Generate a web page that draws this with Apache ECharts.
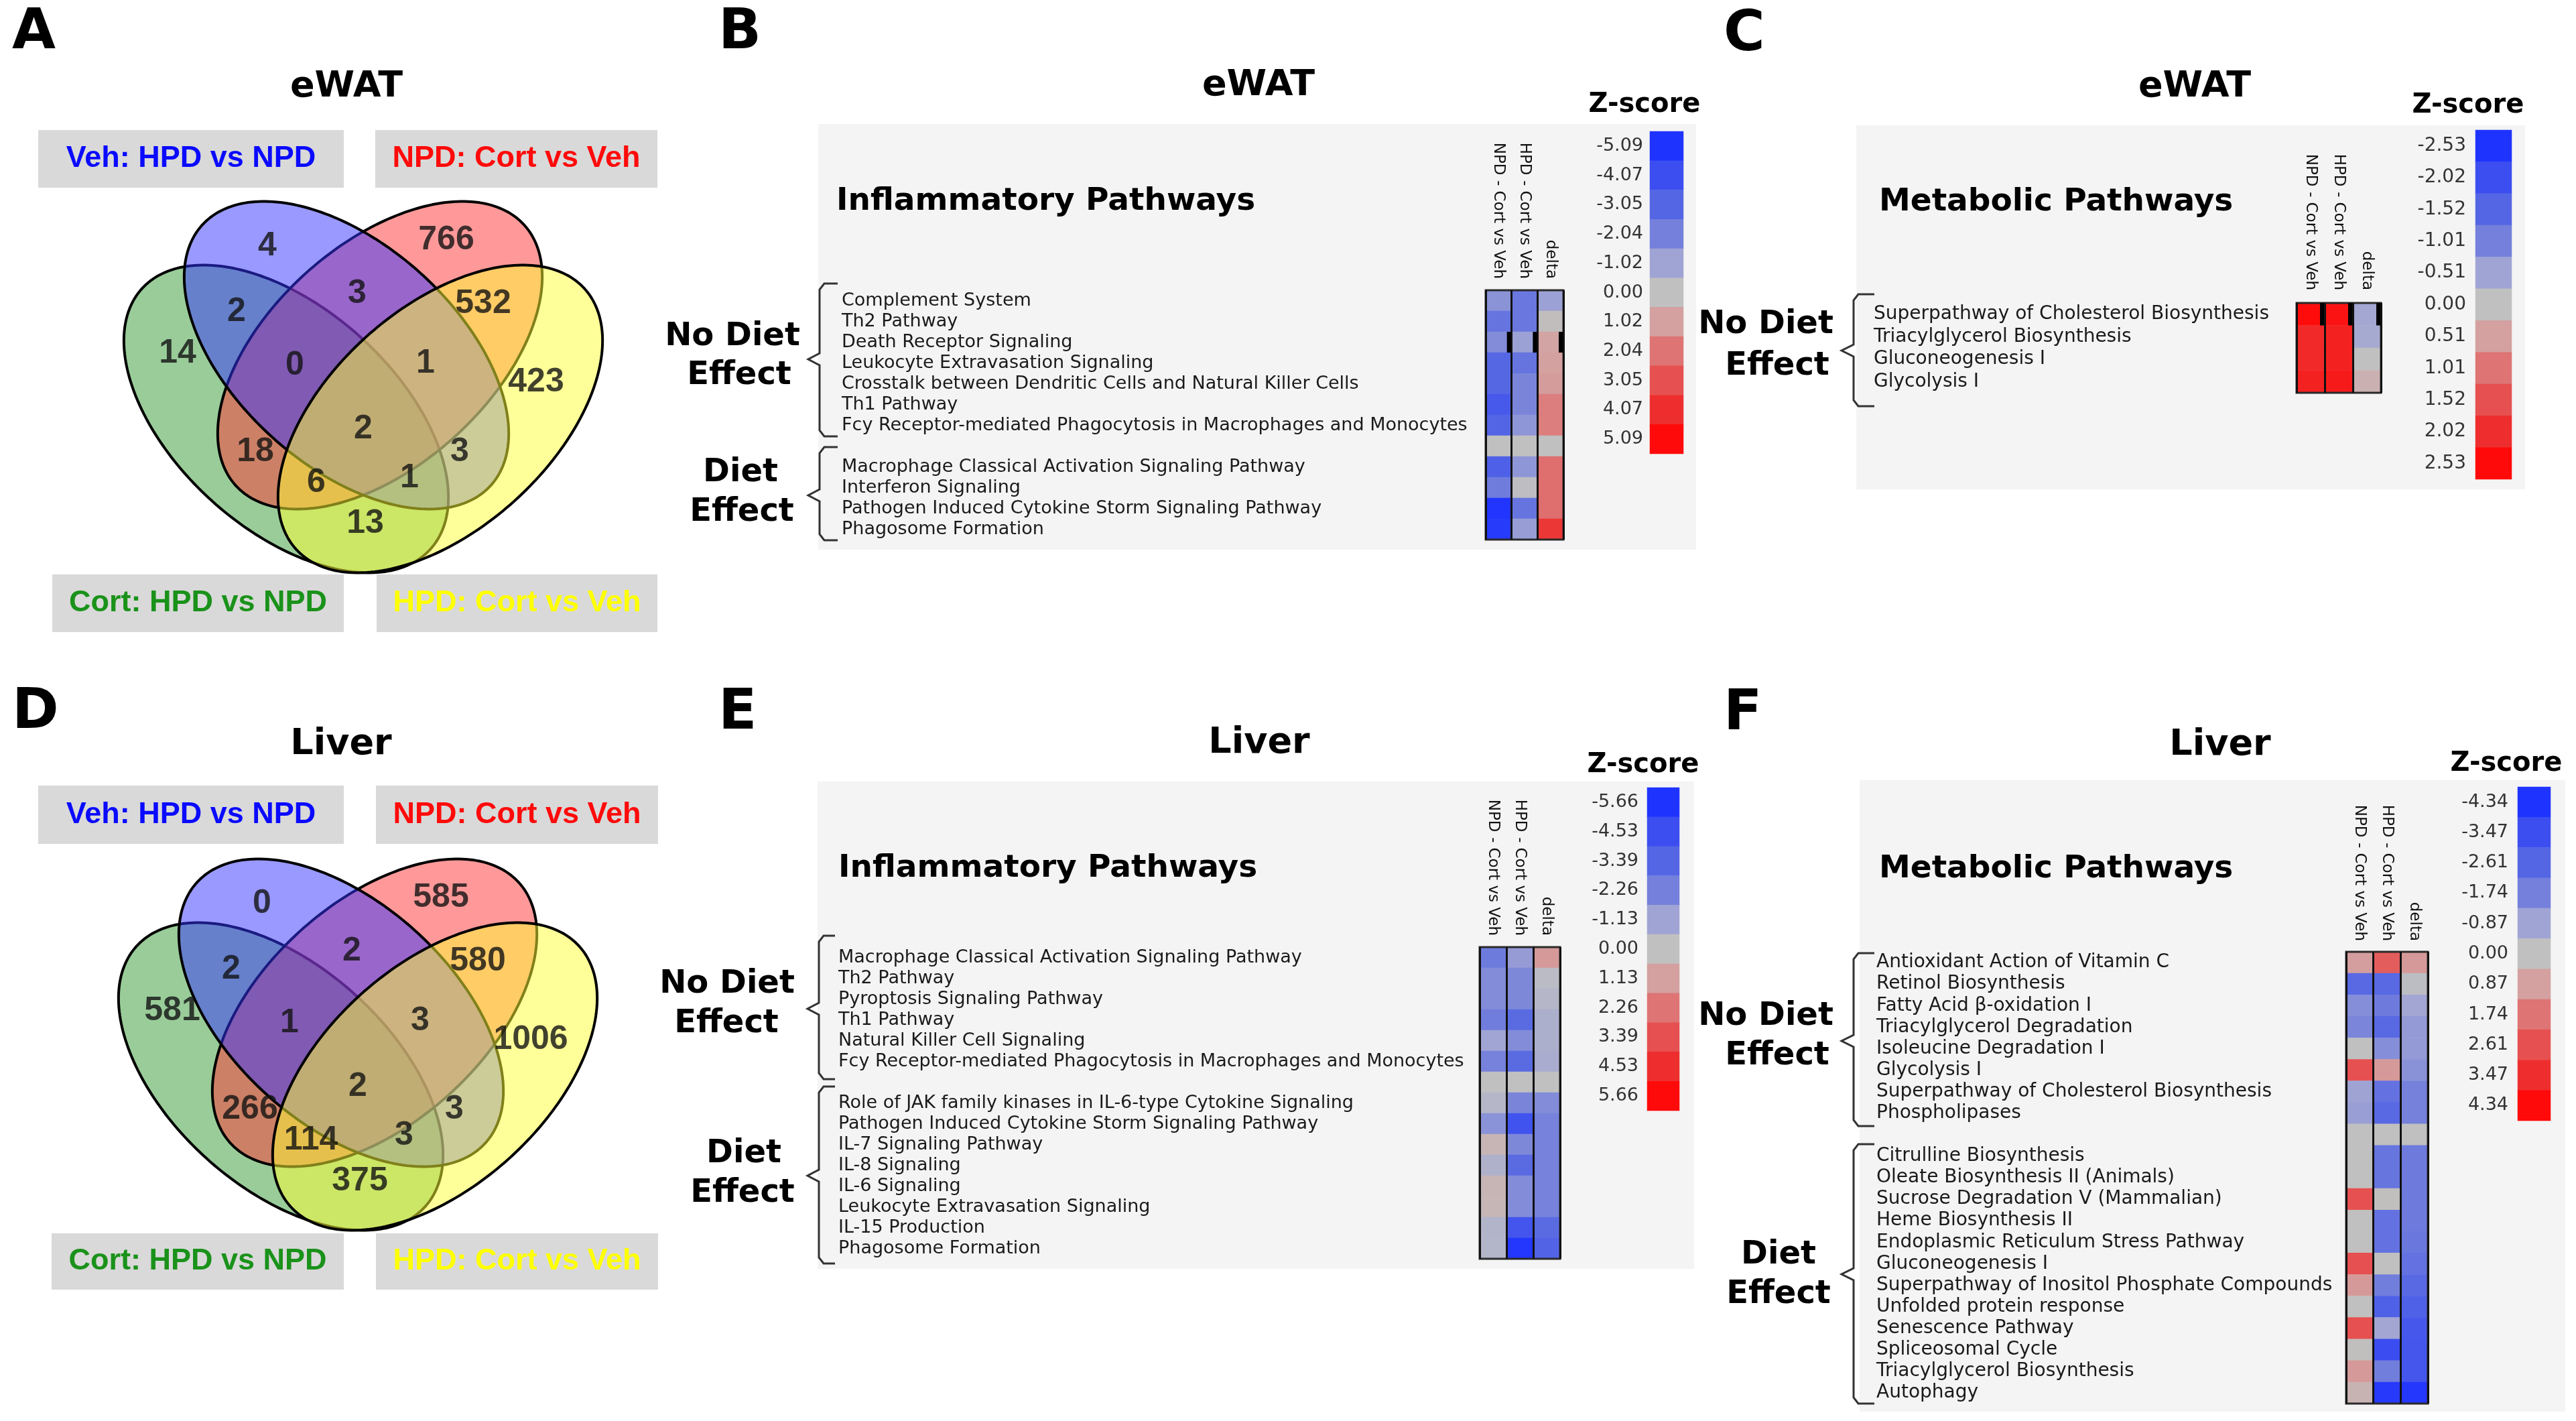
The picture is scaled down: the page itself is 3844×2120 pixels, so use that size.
<!DOCTYPE html>
<html><head><meta charset="utf-8">
<script src="https://cdn.jsdelivr.net/npm/echarts@6/dist/echarts.min.js"></script>
<style>html,body{margin:0;padding:0;background:#fff;}#chart{width:3844px;height:2120px;}</style>
</head><body><div id="chart"></div>
<script>
// ================= DATA =================
const vennSets = ['Veh: HPD vs NPD', 'NPD: Cort vs Veh', 'Cort: HPD vs NPD', 'HPD: Cort vs Veh'];
// regions: B=Veh(blue) R=NPD(red) G=Cort(green) Y=HPD(yellow)
const vennRegions = ['B','R','G','Y','BR','BG','RY','GY','BRG','BRY','RG','BY','RGY','BGY','BRGY'];
const eWATCounts  = [4, 766, 14, 423, 3, 2, 532, 13, 0, 1, 18, 3, 6, 1, 2];
const liverCounts = [0, 585, 581, 1006, 2, 2, 580, 375, 1, 3, 266, 3, 114, 3, 2];

const heatCols = ['NPD - Cort vs Veh', 'HPD - Cort vs Veh', 'delta'];

const rowsB = ['Complement System','Th2 Pathway','Death Receptor Signaling','Leukocyte Extravasation Signaling',
  'Crosstalk between Dendritic Cells and Natural Killer Cells','Th1 Pathway',
  'Fcy Receptor-mediated Phagocytosis in Macrophages and Monocytes','',
  'Macrophage Classical Activation Signaling Pathway','Interferon Signaling',
  'Pathogen Induced Cytokine Storm Signaling Pathway','Phagosome Formation'];
const npdB   = [-1.5, -2.5, -1.7, -3.0, -3.0, -3.6, -3.1, 0, -3.3, -2.2, -5.0, -4.8];
const hpdB   = [-2.4, -2.4, -1.1, -2.5, -1.9, -1.9, -1.4, 0, -1.4, -0.1, -2.5, -1.2];
const deltaB = [-1.1, 0.1, 0.9, 1.0, 1.1, 1.8, 1.8, 0, 2.2, 2.2, 2.2, 3.8];
const zTicksB = ['-5.09','-4.07','-3.05','-2.04','-1.02','0.00','1.02','2.04','3.05','4.07','5.09'];
const selectedB = ['Death Receptor Signaling'];

const rowsC = ['Superpathway of Cholesterol Biosynthesis','Triacylglycerol Biosynthesis','Gluconeogenesis I','Glycolysis I'];
const npdC   = [2.5, 2.1, 2.1, 2.2];
const hpdC   = [2.4, 2.2, 2.2, 2.3];
const deltaC = [-0.45, -0.4, 0, 0.25];
const zTicksC = ['-2.53','-2.02','-1.52','-1.01','-0.51','0.00','0.51','1.01','1.52','2.02','2.53'];
const selectedC = ['Superpathway of Cholesterol Biosynthesis'];

const rowsE = ['Macrophage Classical Activation Signaling Pathway','Th2 Pathway','Pyroptosis Signaling Pathway',
  'Th1 Pathway','Natural Killer Cell Signaling','Fcy Receptor-mediated Phagocytosis in Macrophages and Monocytes','',
  'Role of JAK family kinases in IL-6-type Cytokine Signaling','Pathogen Induced Cytokine Storm Signaling Pathway',
  'IL-7 Signaling Pathway','IL-8 Signaling','IL-6 Signaling','Leukocyte Extravasation Signaling','IL-15 Production',
  'Phagosome Formation'];
const npdE   = [-2.5, -1.9, -1.9, -2.4, -1.1, -2.2, 0, -0.4, -1.7, 0.4, -0.6, 0.4, 0.35, -0.5, -0.45];
const hpdE   = [-1.4, -2.0, -2.0, -3.2, -1.9, -3.2, 0, -2.1, -4.3, -2.0, -3.2, -1.9, -1.9, -4.2, -5.5];
const deltaE = [1.3, -0.2, -0.4, -0.7, -0.7, -0.8, 0, -1.9, -2.2, -2.2, -2.2, -2.2, -2.2, -3.2, -3.5];
const zTicksE = ['-5.66','-4.53','-3.39','-2.26','-1.13','0.00','1.13','2.26','3.39','4.53','5.66'];
const selectedE = [];

const rowsF = ['Antioxidant Action of Vitamin C','Retinol Biosynthesis','Fatty Acid β-oxidation I',
  'Triacylglycerol Degradation','Isoleucine Degradation I','Glycolysis I','Superpathway of Cholesterol Biosynthesis',
  'Phospholipases','','Citrulline Biosynthesis','Oleate Biosynthesis II (Animals)','Sucrose Degradation V (Mammalian)',
  'Heme Biosynthesis II','Endoplasmic Reticulum Stress Pathway','Gluconeogenesis I',
  'Superpathway of Inositol Phosphate Compounds','Unfolded protein response','Senescence Pathway',
  'Spliceosomal Cycle','Triacylglycerol Biosynthesis','Autophagy'];
const npdF   = [0.9, -2.5, -1.4, -1.6, 0, 2.6, -0.9, -1.0, 0, 0, 0, 2.6, 0, 0, 2.6, 1.0, 0, 2.6, 0.05, 1.0, 0.35];
const hpdF   = [2.3, -2.5, -1.9, -2.5, -1.4, 1.0, -2.2, -2.5, 0, -2.1, -2.1, 0.05, -2.2, -2.2, 0, -1.8, -2.8, -0.8, -3.5, -1.8, -4.1];
const deltaF = [1.0, -0.1, -0.8, -1.1, -1.1, -1.3, -1.7, -1.7, 0, -1.9, -1.9, -1.9, -1.9, -2.0, -2.2, -2.5, -2.8, -3.1, -3.2, -3.2, -4.2];
const zTicksF = ['-4.34','-3.47','-2.61','-1.74','-0.87','0.00','0.87','1.74','2.61','3.47','4.34'];
const selectedF = [];

// ================= LAYOUT / STYLE =================
const zColors = ['#1f33ff','#3c4ef0','#5466e4','#7480db','#a0a4d4','#c0c0c0','#d4a0a0','#de7474','#e65050','#ee2e2e','#ff0a0a'];
const SANS = '"DejaVu Sans"';
const regionPos = {B:[399,367], R:[666,358], G:[265,527], Y:[800,570], BR:[533,438], BG:[353,465], RY:[721,453],
  GY:[545,781], BRG:[440,545], BRY:[635,542], RG:[381,674], BY:[686,674], RGY:[472,720], BGY:[611,713], BRGY:[542,640]};
const vennShapes = [ // drawing order: green, red, blue, yellow
  {cx:427, cy:625, a:290, b:165, rot:42,  fill:'rgba(51,153,51,0.5)'},
  {cx:567, cy:530, a:290, b:165, rot:-42, fill:'rgba(255,51,51,0.5)'},
  {cx:517, cy:530, a:290, b:165, rot:42,  fill:'rgba(51,51,255,0.5)'},
  {cx:657, cy:625, a:290, b:165, rot:-42, fill:'rgba(255,255,51,0.5)'}
];
const vennTextColors = ['#0a0aff', '#ff0a0a', '#1a921a', '#ffff00'];

const grids = [], xAxes = [], yAxes = [], series = [], visualMaps = [], graphics = [];

function txt(x, y, text, font, fill, align, vAlign, z) {
  graphics.push({type:'text', x:x, y:y, z: z || 10,
    style:{text:text, font:font, fill:fill || '#000', textAlign: align || 'center', align: align || 'center',
      textVerticalAlign: vAlign || 'middle', verticalAlign: vAlign || 'middle'}});
}
function rect(x, y, w, h, fill, z) {
  graphics.push({type:'rect', z: z === undefined ? -5 : z, shape:{x:x, y:y, width:w, height:h}, style:{fill:fill}});
}
function brace(xTip, xV, xR, yTop, yMid, yBot) {
  graphics.push({type:'polyline', z:10, shape:{points:[[xR,yTop],[xV+7,yTop],[xV,yTop+9],[xV,yMid-9],[xTip,yMid],
    [xV,yMid+9],[xV,yBot-9],[xV+7,yBot],[xR,yBot]]}, style:{stroke:'#333', lineWidth:3, fill:null}});
}

function addVenn(counts, dx, dy, title, boxes) {
  const gi = grids.length;
  grids.push({left:0, top:dy, width:1000, height:1000, show:false});
  xAxes.push({type:'value', gridIndex:gi, min:-dx, max:1000 - dx, show:false});
  yAxes.push({type:'value', gridIndex:gi, min:0, max:1000, inverse:true, show:false});
  series.push({type:'custom', xAxisIndex:gi, yAxisIndex:gi, silent:true, z:2,
    data: vennShapes.map((s, i) => [i, 0]),
    renderItem: function (params, api) {
      const e = vennShapes[api.value(0)];
      const r = e.rot * Math.PI / 180, pts = [];
      for (let k = 0; k < 240; k++) {
        const t = k / 240 * 2 * Math.PI, lx = e.a * Math.cos(t), ly = e.b * Math.sin(t);
        pts.push(api.coord([e.cx + lx * Math.cos(r) - ly * Math.sin(r), e.cy + lx * Math.sin(r) + ly * Math.cos(r)]));
      }
      return {type:'polygon', shape:{points:pts}, style:{fill:e.fill, stroke:'#000', lineWidth:4}};
    }});
  series.push({type:'scatter', xAxisIndex:gi, yAxisIndex:gi, silent:true, z:5, symbolSize:1,
    itemStyle:{color:'rgba(0,0,0,0)'},
    data: vennRegions.map((r, i) => [regionPos[r][0], regionPos[r][1], counts[i]]),
    label:{show:true, position:'inside', formatter: p => String(p.value[2]),
      fontSize:50, fontWeight:'bold', fontFamily:'"Liberation Sans"', color:'#111'}});
  txt(517 + dx, 130 + dy, title, 'bold 54px ' + SANS, '#000');
  boxes.forEach((b, i) => {
    rect(b[0], b[1], b[2], b[3], '#d9d9d9', 1);
    txt(b[0] + b[2] / 2, b[1] + b[3] / 2, vennSets[i], 'bold 45px "Liberation Sans"', vennTextColors[i]);
  });
}

addVenn(eWATCounts, 0, 0, 'eWAT',
  [[57,194,456,86],[560,194,421,86],[78,857,435,86],[562,857,419,86]]);
addVenn(liverCounts, -8, 981, 'Liver',
  [[57,1172,456,87],[561,1172,421,87],[77,1840,436,84],[561,1840,421,84]]);

function addHeat(P) {
  const gi = grids.length;
  grids.push(Object.assign({show:true, borderColor:'#2a2a2a', borderWidth:3, backgroundColor:'transparent', z:6}, P.grid));
  xAxes.push({type:'category', gridIndex:gi, data:heatCols, position:'top', z:6,
    axisLine:{show:false}, axisTick:{show:false},
    axisLabel:{interval:0, rotate:90, margin:P.headMargin, fontSize:23, fontFamily:SANS, color:'#111'},
    splitLine:{show:true, interval:0, lineStyle:{color:'#111', width:3}}});
  yAxes.push({type:'category', gridIndex:gi, data:P.rows, inverse:true,
    axisLine:{show:false}, axisTick:{show:false}, splitLine:{show:false},
    axisLabel:{interval:0, align:'left', margin:P.grid.left - P.labelX, fontSize:P.rowFont, fontFamily:SANS, color:'#1a1a1a'}});
  const cells = [];
  P.vals.forEach((col, j) => col.forEach((v, i) => cells.push([j, i, v])));
  const hs = series.length;
  series.push({type:'heatmap', xAxisIndex:gi, yAxisIndex:gi, data:cells, silent:true, z:2,
    itemStyle:{borderWidth:0}});
  if (P.sel.length) {
    series.push({type:'custom', xAxisIndex:gi, yAxisIndex:gi, silent:true, z:7,
      data: P.sel.map(r => [0, P.rows.indexOf(r)]),
      renderItem: function (params, api) {
        const y = api.value(1), s = api.size([1, 1]), ch = [];
        for (let j = 0; j < 3; j++) {
          const c = api.coord([j, y]);
          ch.push({type:'rect', shape:{x:c[0] + s[0] / 2 - 7, y:c[1] - s[1] / 2, width:6, height:s[1]}, style:{fill:'#000'}});
        }
        return {type:'group', children:ch};
      }});
  }
  // colour bar
  const bi = grids.length;
  grids.push(Object.assign({show:false}, P.bar));
  xAxes.push({type:'category', gridIndex:bi, data:['z'], show:false});
  yAxes.push({type:'category', gridIndex:bi, data:P.ticks, inverse:true,
    axisLine:{show:false}, axisTick:{show:false},
    axisLabel:{interval:0, margin:P.tickGap, fontSize:P.tickFont, fontFamily:SANS, color:'#333'}});
  const bs = series.length;
  series.push({type:'heatmap', xAxisIndex:bi, yAxisIndex:bi, silent:true,
    data:P.ticks.map((t, i) => [0, i, parseFloat(t)]), itemStyle:{borderWidth:0}});
  visualMaps.push({type:'continuous', show:false, dimension:2, seriesIndex:[hs, bs],
    min:parseFloat(P.ticks[0]), max:parseFloat(P.ticks[P.ticks.length - 1]), inRange:{color:zColors}});
  // decorations
  rect(P.bg[0], P.bg[1], P.bg[2], P.bg[3], '#f4f4f4');
  txt(P.titleXY[0], P.titleXY[1], P.title, 'bold 54px ' + SANS, '#000');
  txt(P.headXY[0], P.headXY[1], P.head, 'bold 47px ' + SANS, '#000', 'left');
  txt(P.zXY[0], P.zXY[1], 'Z-score', 'bold 40px ' + SANS, '#000');
  P.groups.forEach(g => {
    g.lines.forEach(l => txt(l[1], l[2], l[0], 'bold 48px ' + SANS, '#000'));
    brace.apply(null, g.brace);
  });
}

addHeat({rows:rowsB, vals:[npdB, hpdB, deltaB], ticks:zTicksB, sel:selectedB,
  grid:{left:2217, top:433, width:116, height:372}, labelX:1256, rowFont:27, headMargin:17,
  bar:{left:2462, top:196, width:50, height:481}, tickGap:10, tickFont:27,
  bg:[1221,185,1310,635], title:'eWAT', titleXY:[1878,128], head:'Inflammatory Pathways', headXY:[1248,301],
  zXY:[2454,157],
  groups:[{lines:[['No Diet',1093,503],['Effect',1103,561]], brace:[1206,1223,1250,423,536,651]},
          {lines:[['Diet',1105,706],['Effect',1107,765]], brace:[1206,1223,1250,667,739,806]}]});

addHeat({rows:rowsC, vals:[npdC, hpdC, deltaC], ticks:zTicksC, sel:selectedC,
  grid:{left:3427, top:452, width:126, height:134}, labelX:2796, rowFont:28, headMargin:19,
  bar:{left:3694, top:194, width:54, height:521}, tickGap:14, tickFont:28,
  bg:[2770,187,998,543], title:'eWAT', titleXY:[3275,130], head:'Metabolic Pathways', headXY:[2804,302],
  zXY:[3683,158],
  groups:[{lines:[['No Diet',2635,485],['Effect',2652,547]], brace:[2748,2766,2797,439,523,606]}]});

addHeat({rows:rowsE, vals:[npdE, hpdE, deltaE], ticks:zTicksE, sel:selectedE,
  grid:{left:2208, top:1413, width:120, height:465}, labelX:1251, rowFont:27, headMargin:17,
  bar:{left:2458, top:1175, width:48, height:482}, tickGap:13, tickFont:27,
  bg:[1220,1166,1308,727], title:'Liver', titleXY:[1879,1109], head:'Inflammatory Pathways', headXY:[1251,1296],
  zXY:[2452,1142],
  groups:[{lines:[['No Diet',1085,1469],['Effect',1084,1528]], brace:[1205,1222,1246,1396,1505,1610]},
          {lines:[['Diet',1110,1722],['Effect',1108,1781]], brace:[1205,1222,1246,1621,1754,1885]}]});

addHeat({rows:rowsF, vals:[npdF, hpdF, deltaF], ticks:zTicksF, sel:selectedF,
  grid:{left:3501, top:1420, width:122, height:674}, labelX:2800, rowFont:28, headMargin:16,
  bar:{left:3757, top:1174, width:49, height:498}, tickGap:14, tickFont:27,
  bg:[2775,1164,1053,942], title:'Liver', titleXY:[3313,1112], head:'Metabolic Pathways', headXY:[2804,1297],
  zXY:[3740,1140],
  groups:[{lines:[['No Diet',2635,1517],['Effect',2652,1576]], brace:[2748,2766,2797,1422,1553,1680]},
          {lines:[['Diet',2654,1873],['Effect',2654,1932]], brace:[2748,2766,2797,1707,1901,2094]}]});

// panel letters
[['A',18,50],['B',1072,50],['C',2572,53],['D',18,1064],['E',1072,1065],['F',2572,1066]]
  .forEach(l => txt(l[1], l[2], l[0], 'bold 84px ' + SANS, '#000', 'left'));

const chart = echarts.init(document.getElementById('chart'), null, {renderer:'canvas'});
chart.setOption({
  backgroundColor:'#ffffff',
  animation:false,
  grid:grids, xAxis:xAxes, yAxis:yAxes, visualMap:visualMaps, series:series,
  graphic:{elements:graphics}
});
</script></body></html>
